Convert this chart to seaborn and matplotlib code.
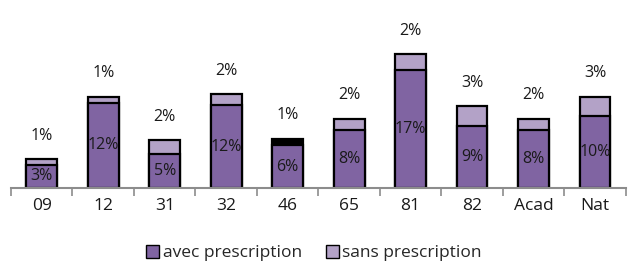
import numpy as np
import pandas as pd
import matplotlib
matplotlib.use("Agg")
import matplotlib.pyplot as plt
from matplotlib.patches import Patch
import seaborn as sns

# values (percent)
zones = ["09", "12", "31", "32", "46", "65", "81", "82", "Acad", "Nat"]
avec = [3.4, 12.4, 5.0, 12.0, 6.2, 8.4, 17.1, 9.0, 8.4, 10.4]
sans = [0.8, 0.9, 2.0, 1.6, 1.0, 1.7, 2.4, 2.9, 1.7, 2.9]

avec_col = "#8064A2"
sans_col = "#B3A2C7"

df = pd.DataFrame({"zone": zones, "avec": avec, "sans": sans})
df["total"] = df["avec"] + df["sans"]

sns.set_style("white")
plt.rcParams["font.family"] = ["Open Sans", "DejaVu Sans"]

fig = plt.figure(figsize=(6.28, 2.65), dpi=100)
ax = fig.add_axes([0.0175, 0.29, 0.979, 0.65])

# full bar first (light), then the "avec" part over it
sns.barplot(data=df, x="zone", y="total", color=sans_col, saturation=1,
            width=0.5, edgecolor="black", linewidth=1.6, ax=ax)
sns.barplot(data=df, x="zone", y="avec", color=avec_col, saturation=1,
            width=0.5, edgecolor="black", linewidth=1.6, ax=ax)

# the 46 top segment is black in the original
ax.containers[0][zones.index("46")].set_facecolor("black")

ax.bar_label(ax.containers[0], labels=[f"{v:.0f}%" for v in sans],
             padding=11, fontsize=11.5, color="#1a1a1a")
ax.bar_label(ax.containers[1], labels=[f"{v:.0f}%" for v in avec],
             label_type="center", fontsize=11.5, color="#1a1a1a")

ax.set_xlim(-0.5, 9.5)
ax.set_ylim(0, 25)
ax.set_xlabel("")
ax.set_ylabel("")
ax.set_yticks([])
for s in ["left", "right", "top"]:
    ax.spines[s].set_visible(False)
ax.spines["bottom"].set_color("#8c8c8c")
ax.spines["bottom"].set_linewidth(1.5)

ax.set_xticks(np.arange(-0.5, 10, 1), minor=True)
ax.tick_params(axis="x", which="major", length=0, pad=7, labelsize=12.5,
               labelcolor="#1a1a1a")
ax.tick_params(axis="x", which="minor", length=6, width=1.2,
               color="#8c8c8c", direction="out", bottom=True)

handles = [Patch(facecolor=avec_col, edgecolor="black", label="avec prescription"),
           Patch(facecolor=sans_col, edgecolor="black", label="sans prescription")]
fig.legend(handles=handles, loc="lower center", bbox_to_anchor=(0.5, -0.045),
           ncol=2, frameon=False, fontsize=12.5, handlelength=0.75,
           handleheight=0.75, handletextpad=0.2, columnspacing=1.4)

fig.savefig("out.png", dpi=100)
